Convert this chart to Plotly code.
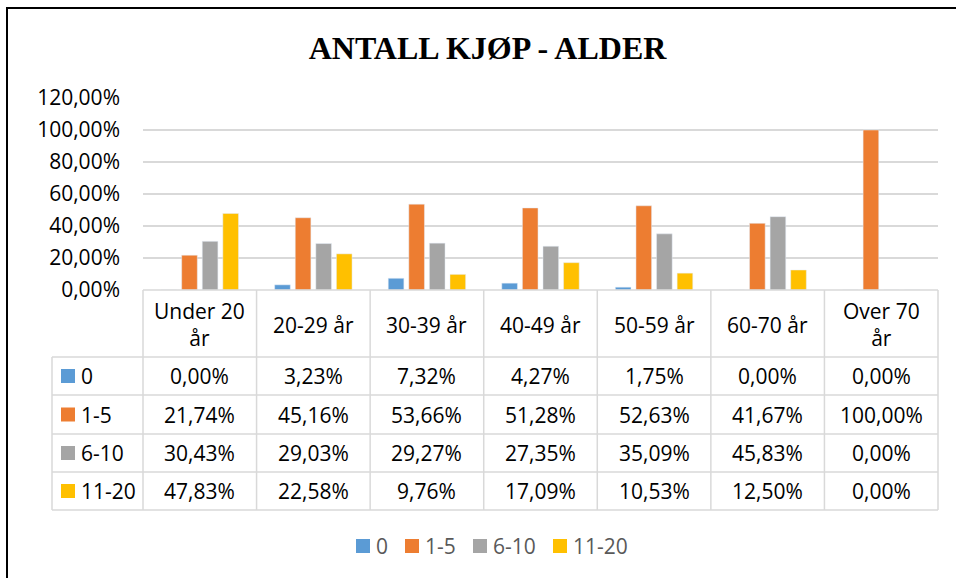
import plotly.graph_objects as go

# ---------------- data ----------------
categories = ["Under 20 år", "20-29 år", "30-39 år", "40-49 år", "50-59 år", "60-70 år", "Over 70 år"]
header_labels = ["Under 20<br>år", "20-29 år", "30-39 år", "40-49 år", "50-59 år", "60-70 år", "Over 70<br>år"]
series_names = ["0", "1-5", "6-10", "11-20"]
vals_0 = [0.0, 0.0323, 0.0732, 0.0427, 0.0175, 0.0, 0.0]
vals_1_5 = [0.2174, 0.4516, 0.5366, 0.5128, 0.5263, 0.4167, 1.0]
vals_6_10 = [0.3043, 0.2903, 0.2927, 0.2735, 0.3509, 0.4583, 0.0]
vals_11_20 = [0.4783, 0.2258, 0.0976, 0.1709, 0.1053, 0.1250, 0.0]
series_values = [vals_0, vals_1_5, vals_6_10, vals_11_20]
colors = ["#5B9BD5", "#ED7D31", "#A5A5A5", "#FFC000"]
y_ticks = [0, 0.2, 0.4, 0.6, 0.8, 1.0, 1.2]
title_text = "ANTALL KJØP - ALDER"

# ---------------- geometry helpers (pixels -> paper) ----------------
W, H = 956, 578
PL, PR, PT, PB = 143, 938, 98, 290
ROWS = [290, 357, 395, 434, 472, 510]
LEG_COL_X = 52
GRID = "#D9D9D9"
FONT = "Open Sans"
NCAT = len(categories)
COLW = (PR - PL) / NCAT


def px(x):
    return x / W


def py(y):
    return 1 - y / H


def fmt(v):
    return f"{v * 100:.2f}%".replace(".", ",")


fig = go.Figure()
for name, vals, col in zip(series_names, series_values, colors):
    fig.add_trace(go.Bar(
        x=categories, y=vals, name=name, marker_color=col,
        showlegend=False,
        hovertemplate="%{x}<br>" + name + ": %{y:.2%}<extra></extra>",
    ))

shapes = []
annotations = []

# outer border
shapes.append(dict(type="rect", xref="paper", yref="paper",
                   x0=px(7), x1=px(962), y0=py(8), y1=py(600),
                   line=dict(color="#000000", width=2), fillcolor="rgba(0,0,0,0)"))

# data table lines
line = dict(color=GRID, width=1.5)
shapes.append(dict(type="line", xref="paper", yref="paper",
                   x0=px(PL), x1=px(PR), y0=py(ROWS[0]), y1=py(ROWS[0]), line=line))
for r in ROWS[1:]:
    shapes.append(dict(type="line", xref="paper", yref="paper",
                       x0=px(LEG_COL_X), x1=px(PR), y0=py(r), y1=py(r), line=line))
for k in range(NCAT + 1):
    xk = PL + k * COLW
    shapes.append(dict(type="line", xref="paper", yref="paper",
                       x0=px(xk), x1=px(xk), y0=py(ROWS[0]), y1=py(ROWS[-1]), line=line))
shapes.append(dict(type="line", xref="paper", yref="paper",
                   x0=px(LEG_COL_X), x1=px(LEG_COL_X), y0=py(ROWS[1]), y1=py(ROWS[-1]), line=line))

# header cells
hc = (ROWS[0] + ROWS[1]) / 2
for i, lab in enumerate(header_labels):
    annotations.append(dict(xref="paper", yref="paper", x=px(PL + (i + 0.5) * COLW), y=py(hc + 1),
                            text=lab, showarrow=False, xanchor="center", yanchor="middle",
                            font=dict(family=FONT, size=21, color="#000000")))

# value rows
for s, (name, vals, col) in enumerate(zip(series_names, series_values, colors)):
    yc = (ROWS[s + 1] + ROWS[s + 2]) / 2
    shapes.append(dict(type="rect", xref="paper", yref="paper",
                       x0=px(61), x1=px(75), y0=py(yc - 7), y1=py(yc + 7),
                       line=dict(width=0), fillcolor=col))
    annotations.append(dict(xref="paper", yref="paper", x=px(79), y=py(yc),
                            text=name, showarrow=False, xanchor="left", yanchor="middle",
                            font=dict(family=FONT, size=21, color="#000000")))
    for i, v in enumerate(vals):
        annotations.append(dict(xref="paper", yref="paper", x=px(PL + (i + 0.5) * COLW), y=py(yc),
                                text=fmt(v), showarrow=False, xanchor="center", yanchor="middle",
                                font=dict(family=FONT, size=21, color="#000000")))

# bottom legend
leg_y = 546
text_w = [12, 31, 43, 55]
x = 356
for name, col, tw in zip(series_names, colors, text_w):
    shapes.append(dict(type="rect", xref="paper", yref="paper",
                       x0=px(x), x1=px(x + 14), y0=py(leg_y - 7), y1=py(leg_y + 7),
                       line=dict(width=0), fillcolor=col))
    annotations.append(dict(xref="paper", yref="paper", x=px(x + 18), y=py(leg_y),
                            text=name, showarrow=False, xanchor="left", yanchor="middle",
                            font=dict(family=FONT, size=21, color="#595959")))
    x += 14 + 5 + tw + 18

fig.update_layout(
    width=W, height=H,
    autosize=False,
    margin=dict(l=0, r=0, t=0, b=0, pad=0, autoexpand=False),
    paper_bgcolor="white", plot_bgcolor="white",
    separators=", ",
    barmode="group", bargap=0.275, bargroupgap=0.24,
    title=dict(text="<b>" + title_text + "</b>", x=px(487.5), xanchor="center",
               y=py(48), yanchor="middle", automargin=False,
               font=dict(family="Times New Roman, Liberation Serif, serif", size=32, color="#000000")),
    xaxis=dict(domain=[px(PL), px(PR)], type="category", range=[-0.5, NCAT - 0.5], automargin=False,
               showticklabels=False, showgrid=False, showline=False, zeroline=False, ticks=""),
    yaxis=dict(domain=[py(PB), py(PT)], range=[0, 1.2], tickvals=y_ticks, tickformat=".2%",
               automargin=False,
               showgrid=True, gridcolor=GRID, gridwidth=1.5, zeroline=False, showline=False,
               ticks="", ticklabelstandoff=22,
               tickfont=dict(family=FONT, size=21, color="#000000")),
    shapes=shapes,
    annotations=annotations,
    showlegend=False,
)

fig.write_html(
    "out.html",
    config={"displayModeBar": False},
    post_script="document.body.style.margin='0';document.body.style.overflow='hidden';",
)
